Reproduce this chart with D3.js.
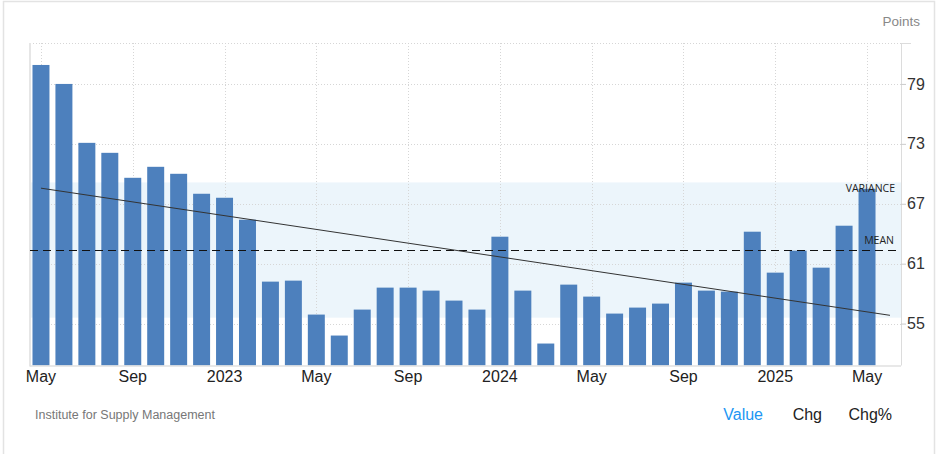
<!DOCTYPE html>
<html>
<head>
<meta charset="utf-8">
<script src="https://cdn.jsdelivr.net/npm/d3@7"></script>
<style>
  html, body { margin: 0; padding: 0; background: #fff; }
  svg { display: block; font-family: "Liberation Sans", Arial, Helvetica, sans-serif; }
</style>
</head>
<body>
<svg id="chart" width="936" height="454"></svg>
<script>
// ---- data ----
const months = ["2022-05","2022-06","2022-07","2022-08","2022-09","2022-10","2022-11","2022-12",
  "2023-01","2023-02","2023-03","2023-04","2023-05","2023-06","2023-07","2023-08","2023-09","2023-10","2023-11","2023-12",
  "2024-01","2024-02","2024-03","2024-04","2024-05","2024-06","2024-07","2024-08","2024-09","2024-10","2024-11","2024-12",
  "2025-01","2025-02","2025-03","2025-04","2025-05"];
const values = [80.9, 79.0, 73.1, 72.1, 69.6, 70.7, 70.0, 68.0,
  67.6, 65.4, 59.2, 59.3, 55.9, 53.8, 56.4, 58.6, 58.6, 58.3, 57.3, 56.4,
  63.7, 58.3, 53.0, 58.9, 57.7, 56.0, 56.6, 57.0, 59.1, 58.3, 58.2, 64.2,
  60.1, 62.3, 60.6, 64.8, 68.5];
const xTickMonths = ["2022-05","2022-09","2023-01","2023-05","2023-09","2024-01","2024-05","2024-09","2025-01","2025-05"];
const xTickLabels = ["May","Sep","2023","May","Sep","2024","May","Sep","2025","May"];
const yTicks = [55, 61, 67, 73, 79];
const yDomain = [50.8, 83.1];
const unitLabel = "Points";
const sourceLabel = "Institute for Supply Management";
const tabs = ["Value", "Chg", "Chg%"];

// ---- layout ----
const svg = d3.select("#chart");
const plotLeft = 30, plotRight = 901, plotTop = 43, plotBottom = 365.5;

const x = d3.scaleBand().domain(months).range([29.5, 878.5]).paddingInner(0.26).paddingOuter(0.13);
const y = d3.scaleLinear().domain(yDomain).range([plotBottom, plotTop]);
const step = x.step();
const cx = i => x(months[0]) + x.bandwidth() / 2 + i * step;

// frame
svg.append("rect").attr("x", 3.5).attr("y", 1.5).attr("width", 931).attr("height", 460)
  .attr("fill", "none").attr("stroke", "#e3e3e3").attr("stroke-width", 1.5);

// stats
const n = values.length;
const mean = d3.mean(values);
const std = Math.sqrt(d3.sum(values, v => (v - mean) ** 2) / n);
const xm = (n - 1) / 2;
const sxy = d3.sum(values, (v, i) => (i - xm) * (v - mean));
const sxx = d3.sum(values, (v, i) => (i - xm) ** 2);
const slope = sxy / sxx;
const intercept = mean - slope * xm;

// variance band
svg.append("rect").attr("x", plotLeft).attr("width", plotRight - plotLeft)
  .attr("y", y(mean + std)).attr("height", y(mean - std) - y(mean + std))
  .attr("fill", "#ecf5fb");

// horizontal grid
const gridY = svg.append("g");
[yDomain[1]].concat(yTicks).forEach(t => {
  gridY.append("line").attr("x1", plotLeft).attr("x2", plotRight)
    .attr("y1", Math.round(y(t)) + 0.5).attr("y2", Math.round(y(t)) + 0.5)
    .attr("stroke", "#d6d6d6").attr("stroke-dasharray", "1,2");
});
// vertical grid
xTickMonths.forEach(m => {
  const xx = Math.round(x(m) + x.bandwidth() / 2) + 0.5;
  svg.append("line").attr("x1", xx).attr("x2", xx).attr("y1", plotTop).attr("y2", plotBottom)
    .attr("stroke", "#d6d6d6").attr("stroke-dasharray", "1,2");
});

// bars
svg.append("g").selectAll("rect").data(values).join("rect")
  .attr("x", (d, i) => x(months[i]))
  .attr("width", x.bandwidth())
  .attr("y", d => y(d))
  .attr("height", d => plotBottom - y(d))
  .attr("fill", "#4d80bd");

// axes lines
svg.append("line").attr("x1", plotLeft).attr("x2", plotLeft).attr("y1", plotTop).attr("y2", plotBottom + 1)
  .attr("stroke", "#e6e6e6").attr("stroke-width", 2);
svg.append("line").attr("x1", plotLeft).attr("x2", plotRight).attr("y1", plotBottom + 0.5).attr("y2", plotBottom + 0.5)
  .attr("stroke", "#e0e0e0").attr("stroke-width", 1.5);

// right y axis via d3
const yAxis = d3.axisRight(y).tickValues(yTicks).tickSize(5).tickPadding(1).tickFormat(d3.format("d"));
const gy = svg.append("g").attr("transform", `translate(${plotRight},0)`).call(yAxis);
gy.select(".domain").attr("stroke", "#dcdcdc").attr("d", `M0.5,${plotTop}V${plotBottom}`);
gy.selectAll(".tick line").attr("stroke", "#cccccc");
gy.selectAll(".tick text").attr("fill", "#333").attr("font-size", 16).attr("dy", "0.32em")
  .attr("font-family", "Liberation Sans, Arial, sans-serif");
svg.append("line").attr("x1", plotRight).attr("x2", plotRight + 10).attr("y1", plotTop + 0.5).attr("y2", plotTop + 0.5)
  .attr("stroke", "#dcdcdc");

// x axis via d3
const xAxis = d3.axisBottom(x).tickValues(xTickMonths).tickSize(0).tickPadding(5)
  .tickFormat((d, i) => xTickLabels[i]);
const gx = svg.append("g").attr("transform", `translate(0,${plotBottom})`).call(xAxis);
gx.select(".domain").remove();
gx.selectAll(".tick text").attr("fill", "#222").attr("font-size", 16)
  .attr("font-family", "Liberation Sans, Arial, sans-serif");

// mean line
const my = Math.round(y(mean)) + 0.5;
svg.append("line").attr("x1", plotLeft).attr("x2", plotRight)
  .attr("y1", my).attr("y2", my)
  .attr("stroke", "#111").attr("stroke-width", 1).attr("stroke-dasharray", "8,5");

// trend line
svg.append("line")
  .attr("x1", cx(0)).attr("y1", y(intercept))
  .attr("x2", cx(n)).attr("y2", y(intercept + slope * n))
  .attr("stroke", "#333").attr("stroke-width", 1);

// labels
svg.append("text").attr("x", 895).attr("y", y(mean + std) + 10).attr("text-anchor", "end")
  .attr("font-family", "Open Sans, sans-serif").attr("font-size", 10.5).attr("fill", "#222").text("VARIANCE");
svg.append("text").attr("x", 894).attr("y", y(mean) - 6).attr("text-anchor", "end")
  .attr("font-family", "Open Sans, sans-serif").attr("font-size", 10.5).attr("fill", "#222").text("MEAN");

svg.append("text").attr("x", 920).attr("y", 26).attr("text-anchor", "end")
  .attr("font-size", 13.5).attr("fill", "#888").text(unitLabel);

svg.append("text").attr("x", 35).attr("y", 419)
  .attr("font-size", 12.5).attr("fill", "#777").text(sourceLabel);

const tabX = [763, 822, 892];
tabs.forEach((t, i) => {
  svg.append("text").attr("x", tabX[i]).attr("y", 420).attr("text-anchor", "end")
    .attr("font-size", 16).attr("fill", i === 0 ? "#2196f3" : "#222").text(t);
});
</script>
</body>
</html>
